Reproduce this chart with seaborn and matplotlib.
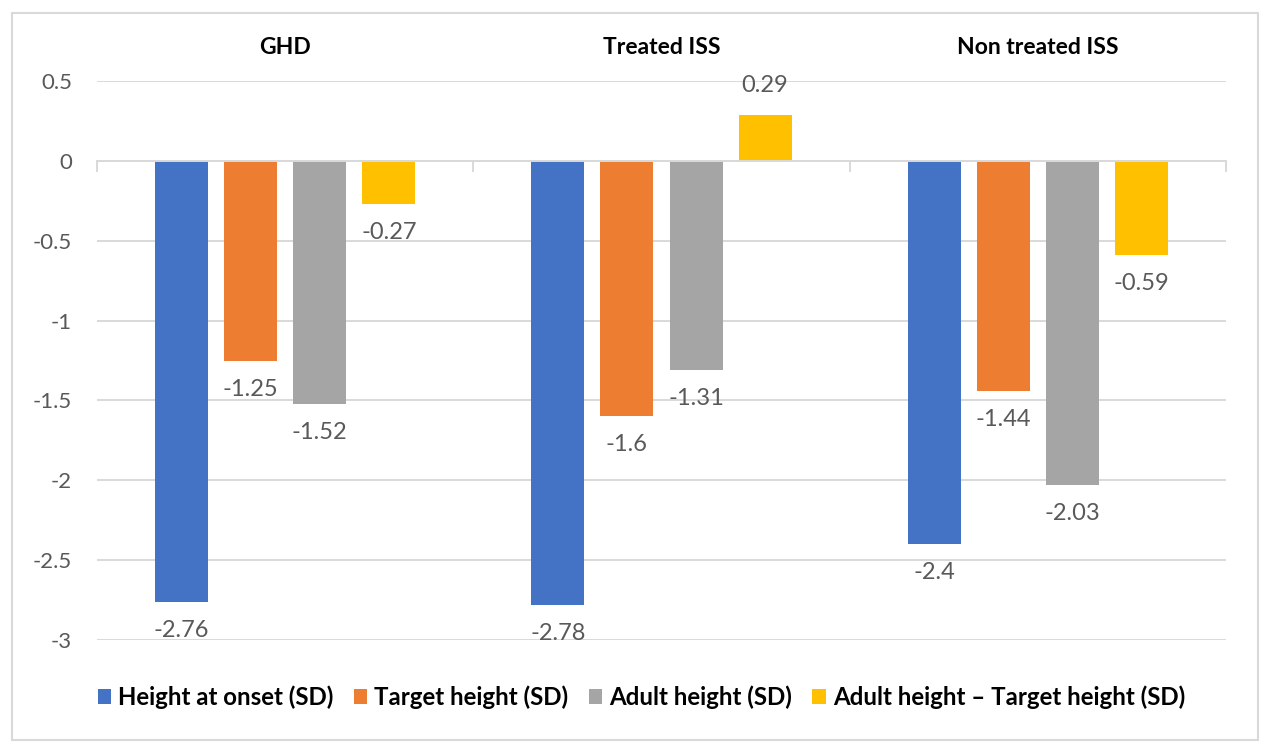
import pandas as pd
import numpy as np
import matplotlib
matplotlib.use("Agg")
import matplotlib.pyplot as plt
from matplotlib.patches import Rectangle
import seaborn as sns

# data
groups = ["GHD", "Treated ISS", "Non treated ISS"]
measures = ["Height at onset (SD)", "Target height (SD)", "Adult height (SD)",
            "Adult height \u2013 Target height (SD)"]
onset = [-2.76, -2.78, -2.4]
target = [-1.25, -1.6, -1.44]
adult = [-1.52, -1.31, -2.03]
diff = [-0.27, 0.29, -0.59]
colors = ["#4472C4", "#ED7D31", "#A5A5A5", "#FFC000"]

rows = []
for m, vals in zip(measures, [onset, target, adult, diff]):
    for g, v in zip(groups, vals):
        rows.append({"group": g, "measure": m, "value": v})
df = pd.DataFrame(rows)

sns.set_style("white")
plt.rcParams["font.family"] = ["Lato", "DejaVu Sans"]

fig = plt.figure(figsize=(12.7, 7.52), dpi=100)
ax = fig.add_axes([97 / 1270, 1 - 640 / 752, (1226 - 97) / 1270, (640 - 81) / 752])

sns.barplot(data=df, x="group", y="value", hue="measure", order=groups,
            hue_order=measures, palette=colors, width=0.734, gap=0.232,
            saturation=1, linewidth=0, ax=ax)

# data labels
for cont in ax.containers:
    vals = [b.get_height() for b in cont]
    ax.bar_label(cont, labels=[f"{v:g}" for v in vals], padding=13,
                 fontsize=17, color="#595959")

ax.set_xlim(-0.5, 2.5)
ax.set_ylim(-3, 0.5)
yt = np.arange(-3, 0.51, 0.5)
ax.set_yticks(yt, labels=[f"{v:g}" for v in yt])
ax.tick_params(axis="y", length=0, pad=18, labelsize=16, labelcolor="#595959")
ax.yaxis.grid(True, color="#D9D9D9", lw=1.4)
ax.set_axisbelow(True)

# boundary ticks on the zero line, category names above the plot
ax.set_xticks([-0.5, 0.5, 1.5, 2.5], labels=[])
ax.tick_params(axis="x", bottom=True, top=False, length=8, width=1.4,
               color="#D9D9D9", labelbottom=False)
for i, g in enumerate(groups):
    ax.text(i, 1 + 33 / 559, g, transform=ax.get_xaxis_transform(), ha="center",
            va="center", fontsize=16.5, fontweight="bold", color="black")
ax.set_xlabel("")
ax.set_ylabel("")
for s in ["left", "right", "top"]:
    ax.spines[s].set_visible(False)
ax.spines["bottom"].set_position(("data", 0))
ax.spines["bottom"].set_color("#D9D9D9")
ax.spines["bottom"].set_linewidth(1.4)

handles, labels = ax.get_legend_handles_labels()
ax.get_legend().remove()
fig.legend(handles, labels, loc="center", bbox_to_anchor=(0.505, 1 - 697 / 752),
           ncol=4, frameon=False, handlelength=0.55, handleheight=0.55,
           handletextpad=0.3, columnspacing=0.85,
           prop={"size": 17.3, "weight": "bold"}, labelcolor="black")

fig.patches.append(Rectangle((12 / 1270, 1 - 740 / 752), 1246 / 1270, 727 / 752,
                             transform=fig.transFigure, fill=False,
                             edgecolor="#D9D9D9", lw=1.5))

fig.savefig("out.png", dpi=100, facecolor="white")
